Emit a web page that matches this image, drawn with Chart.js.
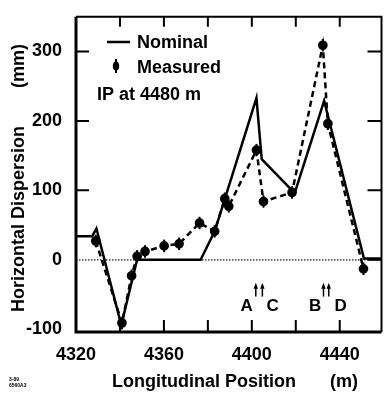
<!DOCTYPE html>
<html>
<head>
<meta charset="utf-8">
<script src="https://cdn.jsdelivr.net/npm/chart.js@4"></script>
<style>
  html, body { margin: 0; padding: 0; background: #fff; }
  #wrap { width: 388px; height: 393px; position: relative; }
</style>
</head>
<body>
<div id="wrap"><canvas id="c"></canvas></div>
<script>
// --- data ---
const nomX = [4320, 4327.4, 4329.3, 4340.6, 4347.8, 4376.7, 4383.1, 4402.1, 4404.5, 4419.5, 4432.9, 4451, 4459];
const nomY = [34, 34, 45, -94, 0, 0, 41, 233, 145, 96, 229, 2, 2];

const measX = [4329.0, 4340.9, 4345.3, 4347.8, 4351.4, 4360.1, 4366.9, 4376.2, 4383.1, 4387.7, 4389.5, 4402.1, 4405.3, 4418.3, 4432.3, 4434.6, 4450.8];
const measY = [27, -91, -23, 5, 12, 20, 23, 53, 41, 88, 77, 158, 84, 97, 309, 196, -13];
const measErr = [9, 9, 9, 9, 9, 9, 9, 9, 9, 9, 9, 9, 9, 9, 9, 9, 9];

const xTicks = [4320, 4360, 4400, 4440];
const xMinor = [4340, 4360, 4380, 4400, 4420, 4440];
const yTicks = [-100, 0, 100, 200, 300];

const FONT = '"Liberation Sans", Arial, sans-serif';

const zip = (xs, ys) => xs.map((x, i) => ({ x: x, y: ys[i] }));

// frame, inward ticks, zero line, error bars and the text bits
const decor = {
  id: 'decor',
  beforeDatasetsDraw(chart) {
    const { ctx, chartArea: a, scales: { x, y } } = chart;
    const y0 = y.getPixelForValue(0);
    ctx.save();
    ctx.strokeStyle = '#222';
    ctx.lineWidth = 1.2;
    ctx.setLineDash([1.5, 1.5]);
    ctx.beginPath();
    ctx.moveTo(a.left, y0); ctx.lineTo(a.right, y0);
    ctx.stroke();
    ctx.restore();
  },
  afterDatasetsDraw(chart) {
    const { ctx, scales: { x, y } } = chart;
    ctx.save();
    ctx.strokeStyle = '#000';
    ctx.lineWidth = 2;
    measX.forEach((mx, i) => {
      const px = x.getPixelForValue(mx);
      ctx.beginPath();
      ctx.moveTo(px, y.getPixelForValue(measY[i] + measErr[i]));
      ctx.lineTo(px, y.getPixelForValue(measY[i] - measErr[i]));
      ctx.stroke();
    });
    ctx.restore();
  },
  afterDraw(chart) {
    const { ctx, chartArea: a, scales: { x, y } } = chart;
    ctx.save();
    ctx.strokeStyle = '#000';
    ctx.fillStyle = '#000';

    // frame
    ctx.lineWidth = 3;
    ctx.beginPath();
    ctx.moveTo(a.left, a.top); ctx.lineTo(a.left, a.bottom); ctx.lineTo(a.right, a.bottom);
    ctx.stroke();
    ctx.lineWidth = 2;
    ctx.beginPath();
    ctx.moveTo(a.left, a.top); ctx.lineTo(a.right, a.top); ctx.lineTo(a.right, a.bottom);
    ctx.stroke();

    // inward tick marks
    ctx.lineWidth = 2;
    ctx.beginPath();
    xMinor.forEach(v => {
      const px = x.getPixelForValue(v);
      ctx.moveTo(px, a.top); ctx.lineTo(px, a.top + 10);
      ctx.moveTo(px, a.bottom); ctx.lineTo(px, a.bottom - 12);
    });
    [100, 200, 300].forEach(v => {
      const py = y.getPixelForValue(v);
      ctx.moveTo(a.left, py); ctx.lineTo(a.left + 13, py);
    });
    [0, 100, 200, 300].forEach(v => {
      const py = y.getPixelForValue(v);
      ctx.moveTo(a.right, py); ctx.lineTo(a.right - 14, py);
    });
    ctx.stroke();

    // legend
    ctx.font = 'bold 18px ' + FONT;
    ctx.textBaseline = 'alphabetic';
    ctx.textAlign = 'left';
    ctx.lineWidth = 2.5;
    ctx.beginPath(); ctx.moveTo(107, 42); ctx.lineTo(130, 42); ctx.stroke();
    ctx.fillText('Nominal', 137, 48);
    ctx.beginPath(); ctx.ellipse(116, 66, 3.2, 4.5, 0, 0, Math.PI * 2); ctx.fill();
    ctx.lineWidth = 2;
    ctx.beginPath(); ctx.moveTo(116, 59); ctx.lineTo(116, 73); ctx.stroke();
    ctx.fillText('Measured', 137, 73);
    ctx.fillText('IP at 4480 m', 97, 100);

    // A/C and B/D markers
    const arrows = [4401.8, 4404.8, 4432.6, 4435.0];
    const yTop = y.getPixelForValue(-33), yBot = y.getPixelForValue(-53);
    ctx.lineWidth = 1.5;
    arrows.forEach(v => {
      const px = x.getPixelForValue(v);
      ctx.beginPath(); ctx.moveTo(px, yTop + 3); ctx.lineTo(px, yBot); ctx.stroke();
      ctx.beginPath(); ctx.moveTo(px, yTop); ctx.lineTo(px - 2.2, yTop + 6); ctx.lineTo(px + 2.2, yTop + 6); ctx.closePath(); ctx.fill();
    });
    ctx.font = 'bold 17px ' + FONT;
    ctx.textAlign = 'center';
    const labY = y.getPixelForValue(-74);
    [['A', 4397.6], ['C', 4409.5], ['B', 4428.8], ['D', 4440.4]].forEach(([t, v]) => {
      ctx.fillText(t, x.getPixelForValue(v), labY);
    });

    // axis titles
    ctx.font = 'bold 18px ' + FONT;
    ctx.textAlign = 'left';
    ctx.fillText('Longitudinal Position', 112, 387);
    ctx.fillText('(m)', 330, 387);
    ctx.save();
    ctx.translate(24, 219);
    ctx.rotate(-Math.PI / 2);
    ctx.textAlign = 'center';
    ctx.fillText('Horizontal Dispersion', 0, 0);
    ctx.restore();
    ctx.save();
    ctx.translate(24, 66);
    ctx.rotate(-Math.PI / 2);
    ctx.textAlign = 'center';
    ctx.fillText('(mm)', 0, 0);
    ctx.restore();

    // tiny figure code
    ctx.font = 'bold 5px ' + FONT;
    ctx.textAlign = 'left';
    ctx.fillText('3-89', 9, 381);
    ctx.fillText('6560A3', 9, 387);
    ctx.restore();
  }
};

new Chart(document.getElementById('c'), {
  type: 'scatter',
  data: {
    datasets: [
      {
        label: 'Nominal',
        data: zip(nomX, nomY),
        showLine: true,
        borderColor: '#000',
        borderWidth: 2.5,
        pointRadius: 0,
        tension: 0
      },
      {
        label: 'Measured',
        data: zip(measX, measY),
        showLine: true,
        borderColor: '#000',
        borderWidth: 2.5,
        borderDash: [6, 4],
        pointRadius: 3.6,
        pointBackgroundColor: '#000',
        pointBorderColor: '#000',
        tension: 0
      }
    ]
  },
  plugins: [decor],
  options: {
    responsive: true,
    maintainAspectRatio: false,
    animation: false,
    layout: { padding: { left: 0, right: 4, top: 13, bottom: 0 } },
    plugins: { legend: { display: false }, tooltip: { enabled: false } },
    scales: {
      x: {
        type: 'linear',
        min: 4320, max: 4459,
        afterBuildTicks: s => { s.ticks = xTicks.map(v => ({ value: v })); },
        afterFit: s => { s.height = 61; },
        grid: { display: false },
        border: { display: false },
        ticks: { color: '#000', padding: 4, callback: v => String(v), font: { family: FONT, size: 18, weight: 'bold' } }
      },
      y: {
        type: 'linear',
        min: -104, max: 350,
        afterBuildTicks: s => { s.ticks = yTicks.map(v => ({ value: v })); },
        afterFit: s => { s.width = 76; },
        grid: { display: false },
        border: { display: false },
        ticks: { color: '#000', padding: 6, callback: v => String(v), font: { family: FONT, size: 18, weight: 'bold' } }
      }
    }
  }
});
</script>
</body>
</html>
